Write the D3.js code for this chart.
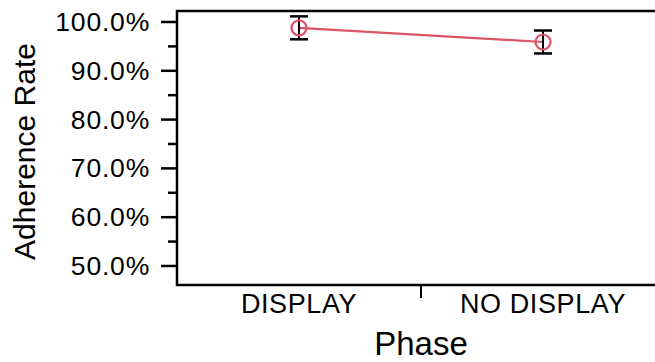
<!DOCTYPE html>
<html>
<head>
<meta charset="utf-8">
<script src="https://cdn.jsdelivr.net/npm/d3@7"></script>
<style>
  html, body { margin: 0; padding: 0; background: #fff; }
  svg { display: block; font-family: "Liberation Sans", Arial, Helvetica, sans-serif; }
</style>
</head>
<body>
<svg id="chart" width="655" height="362"></svg>
<script>
// Adherence rate by phase, mean with error bars
const phases = ["DISPLAY", "NO DISPLAY"];
const adherence = [98.7, 95.8];
const errors = [2.35, 2.35];
const majorTicks = [50, 60, 70, 80, 90, 100];
const minorTicks = [55, 65, 75, 85, 95];

const svg = d3.select("#chart");
const frame = { left: 177, top: 11, right: 665, bottom: 285 };
const lineColor = "#dc5468";

const x = d3.scaleBand().domain(phases).range([frame.left, frame.right]).padding(0);
const y = d3.scaleLinear().domain([46.0, 102.15]).range([frame.bottom, frame.top]);

// Plot frame
svg.append("rect")
  .attr("x", frame.left).attr("y", frame.top)
  .attr("width", frame.right - frame.left + 20)
  .attr("height", frame.bottom - frame.top)
  .attr("fill", "none").attr("stroke", "#000").attr("stroke-width", 2.5);

// Y axis: major ticks with labels, minor ticks without
const yAxis = d3.axisLeft(y).tickValues(majorTicks)
  .tickSize(16).tickPadding(11)
  .tickFormat(d => d3.format(".1f")(d) + "%");
const gy = svg.append("g").attr("transform", `translate(${frame.left},0)`).call(yAxis);
gy.select(".domain").remove();
gy.selectAll(".tick line").attr("stroke", "#000").attr("stroke-width", 2.5);
gy.selectAll(".tick text").attr("fill", "#000").style("font-size", "26.5px")
  .attr("dy", "0.34em").style("letter-spacing", "0.8px");

const gyMinor = svg.append("g").attr("transform", `translate(${frame.left},0)`)
  .call(d3.axisLeft(y).tickValues(minorTicks).tickSize(9).tickFormat(""));
gyMinor.select(".domain").remove();
gyMinor.selectAll(".tick line").attr("stroke", "#000").attr("stroke-width", 2.5);

// X axis: category labels centred in bands, divider tick between bands
const xAxis = d3.axisBottom(x).tickSize(0).tickPadding(9);
const gx = svg.append("g").attr("transform", `translate(0,${frame.bottom})`).call(xAxis);
gx.select(".domain").remove();
gx.selectAll(".tick text").attr("fill", "#000").style("font-size", "27px")
  .attr("dy", "0.71em").style("letter-spacing", "0.6px");

svg.append("g").selectAll("line.divider")
  .data(phases.slice(1))
  .join("line")
  .attr("x1", d => x(d)).attr("x2", d => x(d))
  .attr("y1", frame.bottom).attr("y2", frame.bottom + 13)
  .attr("stroke", "#000").attr("stroke-width", 2);

// Axis titles
svg.append("text")
  .attr("x", x(phases[1])).attr("y", 355)
  .attr("text-anchor", "middle")
  .style("font-size", "33px").attr("fill", "#000")
  .text("Phase");

svg.append("text")
  .attr("transform", `translate(35,151.5) rotate(-90)`)
  .attr("text-anchor", "middle")
  .style("font-size", "30px").attr("fill", "#000")
  .text("Adherence Rate");

const points = phases.map((p, i) => ({ phase: p, value: adherence[i], err: errors[i] }));
const cx = d => x(d.phase) + x.bandwidth() / 2;

// Connecting line
svg.append("path")
  .datum(points)
  .attr("fill", "none").attr("stroke", lineColor).attr("stroke-width", 2.2)
  .attr("d", d3.line().x(cx).y(d => y(d.value)));

// Error bars
const eb = svg.append("g").selectAll("g").data(points).join("g");
eb.append("line")
  .attr("x1", cx).attr("x2", cx)
  .attr("y1", d => y(d.value + d.err)).attr("y2", d => y(d.value - d.err))
  .attr("stroke", "#000").attr("stroke-width", 2);
eb.selectAll("line.cap")
  .data(d => [d.value + d.err, d.value - d.err].map(v => ({ x: cx(d), v })))
  .join("line")
  .attr("x1", d => d.x - 9).attr("x2", d => d.x + 9)
  .attr("y1", d => y(d.v)).attr("y2", d => y(d.v))
  .attr("stroke", "#000").attr("stroke-width", 2.5);

// Markers
svg.append("g").selectAll("circle").data(points).join("circle")
  .attr("cx", cx).attr("cy", d => y(d.value)).attr("r", 7.5)
  .attr("fill", "none").attr("stroke", lineColor).attr("stroke-width", 2.2);
</script>
</body>
</html>
